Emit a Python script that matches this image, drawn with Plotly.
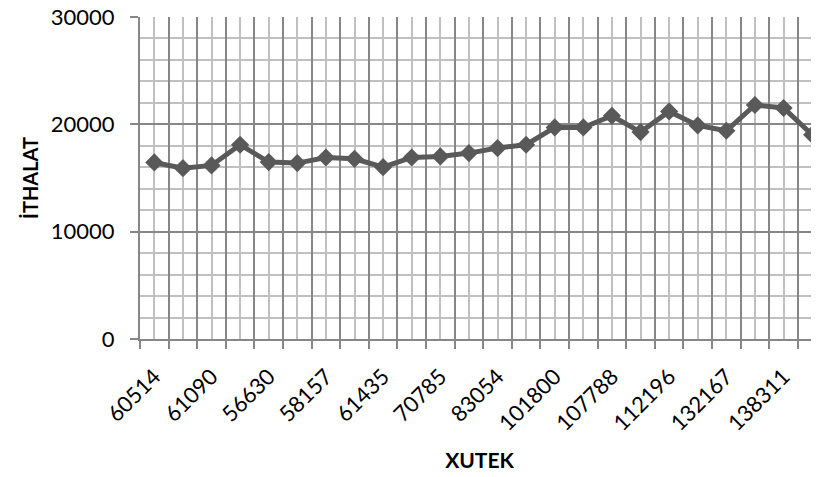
import plotly.graph_objects as go

# XUTEK tick labels (every second category is labelled in the reference)
xutek_labels = ["60514", "61090", "56630", "58157", "61435", "70785",
                "83054", "101800", "107788", "112196", "132167", "138311"]

# İTHALAT values, one per category (24 categories)
ithalat = [16450, 15920, 16170, 18100, 16480, 16390, 16910, 16790, 16010, 16910,
           17010, 17320, 17790, 18100, 19710, 19710, 20800, 19280, 21200, 19900,
           19400, 21800, 21520, 19030]

n = len(ithalat)
x_idx = list(range(n))
tick_text = []
for i in range(n):
    tick_text.append(xutek_labels[i // 2] if i % 2 == 0 else "")

FONT = "Lato"
LINE = "#595959"
DARK = "#878787"
LIGHT = "#c0c0c0"

fig = go.Figure()
fig.add_trace(go.Scatter(
    x=x_idx, y=ithalat, mode="lines+markers",
    line=dict(color=LINE, width=5),
    marker=dict(symbol="diamond", size=14, color=LINE),
    showlegend=False, cliponaxis=True,
))
# overlay axis providing the dark category-boundary gridlines and tick marks
fig.add_trace(go.Scatter(x=[0], y=[None], xaxis="x2", showlegend=False, hoverinfo="skip"))

xrange = [-0.5, 23.24]
# the page body has an 8px default margin, so the figure is sized to fit the window
fig.update_layout(
    template="none",
    width=811, height=469,
    margin=dict(l=132, r=0, t=9, b=138),
    plot_bgcolor="white", paper_bgcolor="white",
    font=dict(family=FONT, size=22, color="black"),
    xaxis=dict(
        automargin=False, ticklabeloverflow="allow",
        range=xrange, tickmode="array", tickvals=x_idx, ticktext=tick_text,
        tickangle=-45, ticks="outside", ticklen=15, tickcolor="rgba(0,0,0,0)",
        showgrid=True, gridcolor=LIGHT, gridwidth=2,
        showline=False, zeroline=False,
        tickfont=dict(family=FONT, size=22),
        title=dict(text="<b>XUTEK</b>", font=dict(family=FONT, size=21), standoff=18),
    ),
    xaxis2=dict(
        automargin=False,
        range=xrange, overlaying="x", side="bottom", anchor="y",
        tickmode="linear", tick0=0.5, dtick=1,
        showgrid=True, gridcolor=DARK, gridwidth=2,
        ticks="outside", ticklen=8, tickwidth=2, tickcolor=DARK,
        showticklabels=False, showline=True, linecolor=DARK, linewidth=2,
        zeroline=False,
    ),
    yaxis=dict(
        automargin=False, ticklabeloverflow="allow",
        range=[0, 30000], tickmode="linear", tick0=0, dtick=10000, tickformat="d",
        showgrid=True, gridcolor=DARK, gridwidth=2,
        minor=dict(dtick=2000, showgrid=True, gridcolor=LIGHT, gridwidth=2),
        ticks="outside", ticklen=8, tickwidth=2, tickcolor=DARK,
        showline=True, linecolor=DARK, linewidth=2, zeroline=False,
        ticklabelstandoff=11,
        tickfont=dict(family=FONT, size=22),
        title=dict(text="<b>İTHALAT</b>", font=dict(family=FONT, size=20), standoff=7),
    ),
)

fig.write_html("out.html")
